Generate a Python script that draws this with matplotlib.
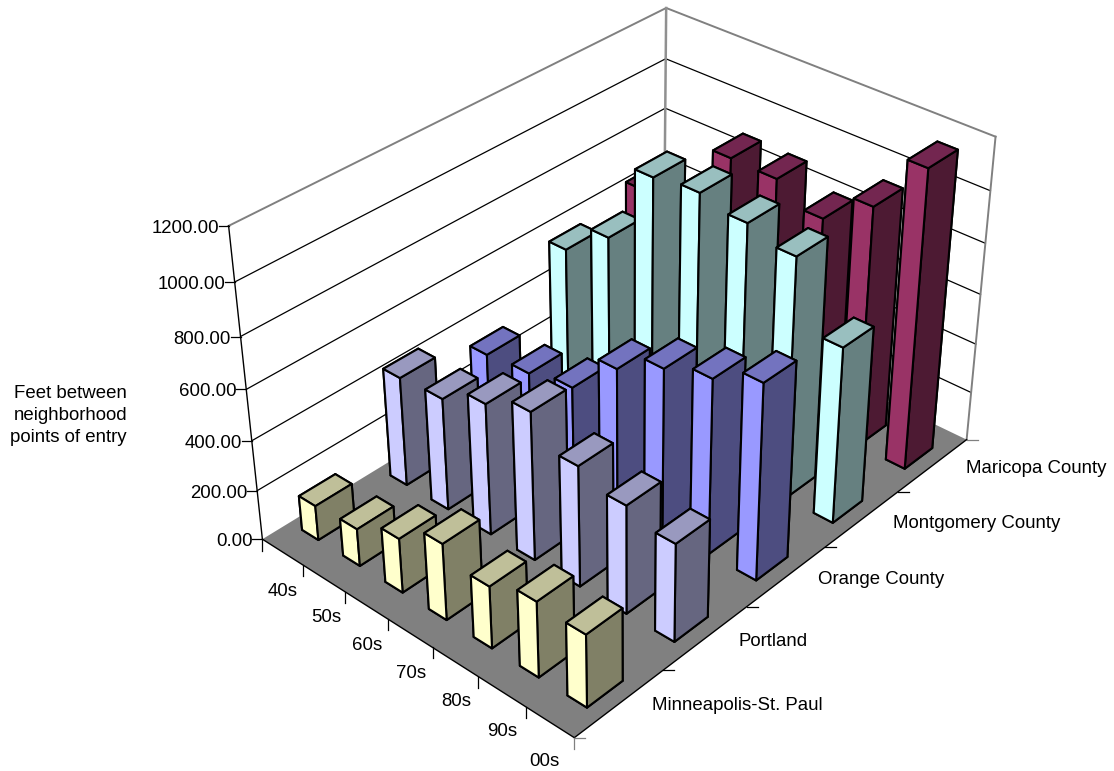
import numpy as np
import matplotlib
matplotlib.use('Agg')
import matplotlib.pyplot as plt
from matplotlib.lines import Line2D
from matplotlib.transforms import Affine2D
from mpl_toolkits.mplot3d.art3d import Poly3DCollection

plt.rcParams['font.family'] = ['Liberation Sans', 'DejaVu Sans']

W, H = 1114, 771

decades = ['40s', '50s', '60s', '70s', '80s', '90s', '00s']
places = ['Minneapolis-St. Paul', 'Portland', 'Orange County', 'Montgomery County', 'Maricopa County']
z_ticks = [0, 200, 400, 600, 800, 1000, 1200]

minneapolis = [140, 150, 218, 305, 247, 300, 287]
portland = [440, 450, 525, 590, 480, 430, 388]
orange = [330, 345, 380, 547, 640, 694, 772]
montgomery = [568, 698, 1010, 1030, 997, 955, 700]
maricopa = [635, 500, 914, 910, 835, 960, 1180]
values = [minneapolis, portland, orange, montgomery, maricopa]

# couleurs : face gauche, dessus, face droite
light = ['#FFFFCC', '#CCCCFF', '#9999FF', '#CCFFFF', '#993366']
top = ['#BFBF99', '#9999BF', '#7373BF', '#99BFBF', '#732650']
dark = ['#808066', '#666680', '#4D4D80', '#668080', '#4D1A33']

# calage de la perspective : coin du repere (x, y, z) -> pixel de l'image
calib = [
    (0, 0, 1200, 229, 226), (0, 0, 1000, 234.3, 282.3), (0, 0, 800, 240.7, 336.7),
    (0, 0, 600, 246, 389.3), (0, 0, 400, 251.7, 440.7), (0, 0, 200, 257.3, 490.3),
    (0, 0, 0, 262.3, 539), (0, 5, 1200, 666, 7.3), (0, 5, 1000, 666, 59.3),
    (0, 5, 800, 665.3, 108.3), (7, 5, 1200, 996, 136.7), (7, 5, 1000, 990, 190.7),
    (7, 5, 800, 985, 243), (7, 5, 0, 966.7, 440), (7, 0, 0, 574.3, 737.3),
    (6, 0, 0, 525.3, 707.7), (7, 1, 0, 664, 669.3),
]


def fit_camera(points):
    rows = []
    for x, y, z, u, v in points:
        p = [x, y, z / 100, 1]
        rows.append(p + [0, 0, 0, 0] + [-u * c for c in p])
        rows.append([0, 0, 0, 0] + p + [-v * c for c in p])
    P = np.linalg.svd(np.array(rows))[2][-1].reshape(3, 4)
    P[:, 2] /= 100
    return P / (P[2] @ [3.5, 2.5, 600, 1])


P = fit_camera(calib)


def to_pixels(x, y, z):
    q = P @ [x, y, z, 1]
    return q[0] / q[2], q[1] / q[2]


fig = plt.figure(figsize=(W / 100, H / 100), dpi=100)
# axes carres (Axes3D impose un carre), centres sur la figure
ax = fig.add_axes([0, (1 - W / H) / 2, 1, W / H], projection='3d', computed_zorder=False)
ax.set_proj_type('ortho')  # sinon les lignes hors de [-1, 1] sont masquees
ax.set_axis_off()


def camera():
    xl = ax.viewLim.intervalx
    yl = ax.viewLim.intervaly
    sx = (xl[1] - xl[0]) / W
    sy = (yl[1] - yl[0]) / W
    M = np.zeros((4, 4))
    M[0] = sx * P[0] + xl[0] * P[2]
    # pixel image vers le bas, axes vers le haut
    M[1] = -sy * P[1] + (yl[0] + sy * (H + (W - H) / 2)) * P[2]
    M[2] = [-1, 1, -0.002, 1.2 + 3.5 - 2.5]
    M[3] = P[2]
    return M


ax.get_proj = camera

# murs
for z in z_ticks[1:-1]:
    ax.plot([0, 0, 7], [0, 5, 5], [z, z, z], color='black', lw=0.9, zorder=1)
ax.plot([0, 0, 7], [0, 5, 5], [1200, 1200, 1200], color='#808080', lw=1.4, zorder=1)
ax.plot([0, 0], [5, 5], [0, 1200], color='#909090', lw=1.8, zorder=1)
ax.plot([7, 7], [5, 5], [0, 1200], color='#808080', lw=1.4, zorder=1)
ax.plot([0, 0], [0, 0], [0, 1200], color='black', lw=1.0, zorder=3)

# sol
floor = Poly3DCollection([[(0, 0, 0), (7, 0, 0), (7, 5, 0), (0, 5, 0)]], facecolors='#808080',
                         edgecolors='none', zorder=2)
ax.add_collection3d(floor)
ax.plot([0, 7, 7], [0, 0, 5], [0, 0, 0], color='black', lw=1.0, zorder=3)

# barres, du fond vers l'avant
order = 10
for j in range(len(places) - 1, -1, -1):
    for i in range(len(decades)):
        # ordre de bar3d : -z, +z, -y, +y, -x, +x
        faces = [top[j], top[j], light[j], top[j], top[j], dark[j]]
        ax.bar3d(i + 0.3, j + 0.3, 0, 0.4, 0.4, values[j][i], color=faces,
                 shade=False, edgecolor='black', linewidth=1.5, zorder=order)
        order += 1

# reperes et textes en pixels
px = Affine2D().scale(1, -1).translate(0, H)


def tick(u, v, du, dv, color='black'):
    fig.add_artist(Line2D([u, u + du], [v, v + dv], color=color, lw=0.9, transform=px))


for z in z_ticks:
    u, v = to_pixels(0, 0, z)
    tick(u, v, -10, 0)
    fig.text((u - 9.5) / W, 1 - (v + 2.5) / H, '%.2f' % z, ha='right', va='center', fontsize=13.4, color='black')

tick(*to_pixels(0, 0, 0), 0, 12)
for i in range(1, 8):
    tick(*to_pixels(i, 0, 0), 0, 11, '#808080' if i == 7 else 'black')
for j in range(0, 6):
    tick(*to_pixels(7, j, 0), 11, 0, '#808080' if j in (0, 5) else 'black')

decade_xy = [(283, 591), (326, 618), (367, 646), (411, 673), (456, 702), (502, 731), (544, 762)]
for name, (u, v) in zip(decades, decade_xy):
    fig.text(u / W, 1 - v / H, name, ha='center', va='center', fontsize=13.4)

place_xy = [(652, 706), (738, 641), (818, 580), (893, 523), (966, 469)]
for name, (u, v) in zip(places, place_xy):
    fig.text(u / W, 1 - v / H, name, ha='left', va='center', fontsize=13.4)

for line, v in zip(['Feet between', 'neighborhood', 'points of entry'], [394, 416, 438]):
    fig.text(127 / W, 1 - v / H, line, ha='right', va='center', fontsize=13.4)

fig.savefig('out.png', dpi=100)
